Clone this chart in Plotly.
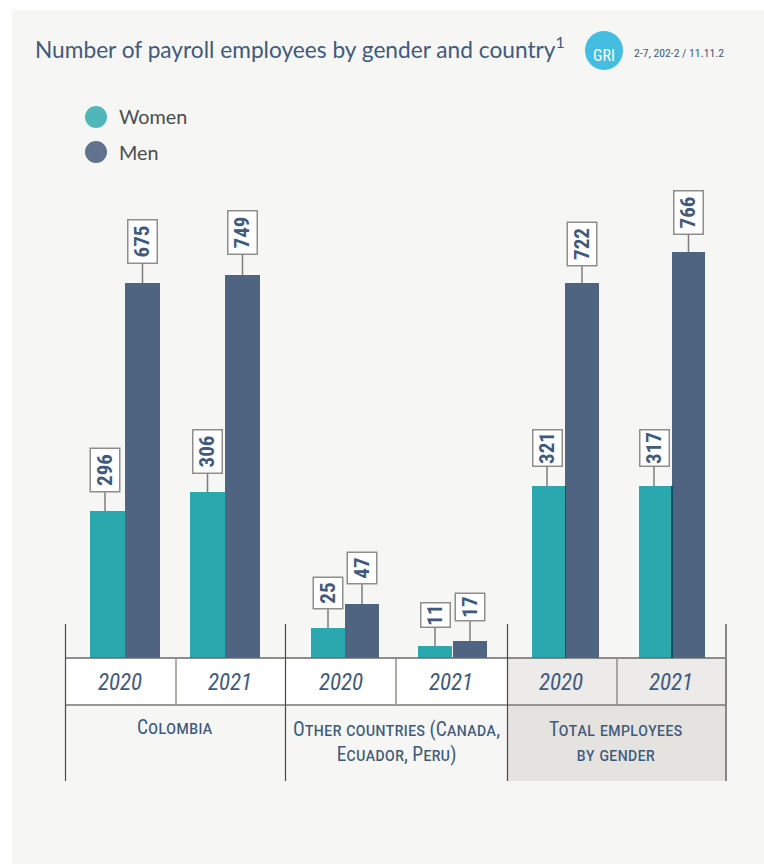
import plotly.graph_objects as go

# Data ---------------------------------------------------------------------
years = ["2020", "2021", "2020", "2021", "2020", "2021"]
groups = ["Colombia", "Other countries (Canada,<br>Ecuador, Peru)", "Total employees<br>by gender"]
women_labels = [296, 306, 25, 11, 321, 317]
men_labels = [675, 749, 47, 17, 722, 766]
# Bar heights as drawn in the picture; the source does not scale them with the printed figures.
women_drawn = [147, 166, 30, 12, 172, 172]
men_drawn = [375, 383, 54, 17, 375, 406]

# Layout ---------------------------------------------------------------------
W, H = 764, 864
BASE = 658
def Y(px):
    return BASE - px

centers = [125, 225, 345, 452, 565, 672]
women_w = [35, 35, 34, 34, 33, 33]
men_w = [35, 35, 34, 34, 34, 33]
men_off = [0, 0, 0, 1, 0, 0]
BLUE = "#3f5a7d"
TEAL = "#2ba8ae"
SLATE = "#4f6480"
HAND = "'Roboto Condensed', 'Noto Sans', sans-serif"
BODY = "Lato, 'Noto Sans', sans-serif"

fig = go.Figure()
fig.add_trace(go.Bar(x=centers, y=women_drawn, width=women_w, offset=[-w for w in women_w],
                     marker=dict(color=TEAL, line_width=0), name="Women", showlegend=False))
fig.add_trace(go.Bar(x=centers, y=men_drawn, width=men_w, offset=men_off,
                     marker=dict(color=SLATE, line_width=0), name="Men", showlegend=False))

# Legend
fig.add_trace(go.Scatter(x=[96, 96], y=[Y(117), Y(152)], mode="markers",
                         marker=dict(size=22, color=["#4fb6ba", "#60728d"]), showlegend=False, hoverinfo="skip"))

shapes = []
def rect(x0, x1, y0, y1, color):
    shapes.append(dict(type="rect", xref="x", yref="y", x0=x0, x1=x1, y0=Y(y0), y1=Y(y1),
                       fillcolor=color, line_width=0, layer="below"))
def line(x0, x1, y0, y1, color, w=1.5):
    shapes.append(dict(type="line", xref="x", yref="y", x0=x0, x1=x1, y0=Y(y0), y1=Y(y1),
                       line=dict(color=color, width=w), layer="above"))

rect(12, W, 10, H, "#f6f6f4")
rect(66, 507, 658, 705, "#ffffff")
rect(507, 726, 658, 705, "#ecebe9")
rect(507, 726, 705, 781, "#e4e3df")
line(66, 726, 658, 658, "#6a6a68")
line(66, 726, 705, 705, "#777775")
for x in (176, 396, 617):
    line(x, x, 658, 705, "#8f8f8d", 1.5)
for x, c in ((65.5, "#4a4a4a"), (285.5, "#4a4a4a"), (507.5, "#4a4a4a"), (726, "#868684")):
    line(x, x, 624, 781, c, 1.2 if c == "#4a4a4a" else 2)
# dark seam between the bars of the total columns
line(565.5, 565.5, 486, 658, "#0e4f68", 1)
line(672, 672, 486, 658, "#0e4f68", 2)

# GRI badge
shapes.append(dict(type="circle", xref="x", yref="y", x0=585, x1=623, y0=Y(31), y1=Y(70),
                   fillcolor="#45bde0", line_width=0, layer="above"))

ann = []
def text(x, px, s, size, color, font=BODY, anchor="center", **kw):
    ann.append(dict(x=x, y=Y(px), text=s, showarrow=False, xanchor=anchor, yanchor="middle",
                    font=dict(size=size, color=color, family=font, **kw)))

text(33, 47, "Number of payroll employees by gender and country<sup>1</sup>", 22.7, BLUE, anchor="left")
text(604, 55, "GRI", 16, "#ffffff", HAND)
text(632, 53, "2-7, 202-2 / 11.11.2", 11.7, BLUE, HAND, anchor="left")
text(117, 116, "Women", 19.8, "#4c4c4c", anchor="left")
text(117, 152, "Men", 19.8, "#4c4c4c", anchor="left")

year_x = [120, 230, 341, 451, 561, 671]
for x, s in zip(year_x, years):
    ann.append(dict(x=x, y=Y(682), text=f"<i>{s}</i>", showarrow=False,
                    font=dict(size=23, color=BLUE, family=HAND)))
for x, s, px in zip((175, 396, 616), groups, (727, 742, 742)):
    ann.append(dict(x=x, y=Y(px), text=s, showarrow=False, align="center", yanchor="middle",
                    font=dict(size=19.5, color=BLUE, family=HAND, variant="small-caps")))

# Value flags
def flag(x, top, value, stem, length):
    ann.append(dict(x=x, y=top, text=f"<b>{value}</b>", textangle=-90, showarrow=True, arrowhead=0,
                    arrowwidth=1.5, arrowcolor="#7d7d7b", ax=0, ay=-(stem + length / 2), axref="pixel", ayref="pixel",
                    yanchor="middle", xanchor="center", align="center",
                    width=length - 4, height=26.5, bgcolor="#ffffff", bordercolor="#8e8e8c",
                    borderwidth=1.5, borderpad=0.5, font=dict(size=21, color=BLUE, family=HAND)))

w_stems = [18, 18, 18, 18, 19, 19]
m_stems = [19, 20, 19, 19, 16, 17]
w_len = [45, 45, 33, 26, 38, 38]
m_len = [45, 45, 33, 29, 45, 45]
w_shift = [-2.5, 0, 0, 0, -1.5, -1.5]
for i, c in enumerate(centers):
    flag(c - women_w[i] / 2 + w_shift[i], women_drawn[i], women_labels[i], w_stems[i], w_len[i])
    flag(c + men_off[i] + men_w[i] / 2, men_drawn[i], men_labels[i], m_stems[i], m_len[i])

fig.update_layout(
    width=W, height=H, margin=dict(l=0, r=0, t=0, b=0), autosize=False,
    paper_bgcolor="#ffffff", plot_bgcolor="rgba(0,0,0,0)", barmode="overlay",
    xaxis=dict(range=[0, W], visible=False, fixedrange=True),
    yaxis=dict(range=[Y(H), Y(0)], visible=False, fixedrange=True),
    shapes=shapes, annotations=ann, showlegend=False,
)
fig.write_html("out.html", config={"displayModeBar": False},
               post_script="document.body.style.margin='0';document.body.style.overflow='hidden';")
